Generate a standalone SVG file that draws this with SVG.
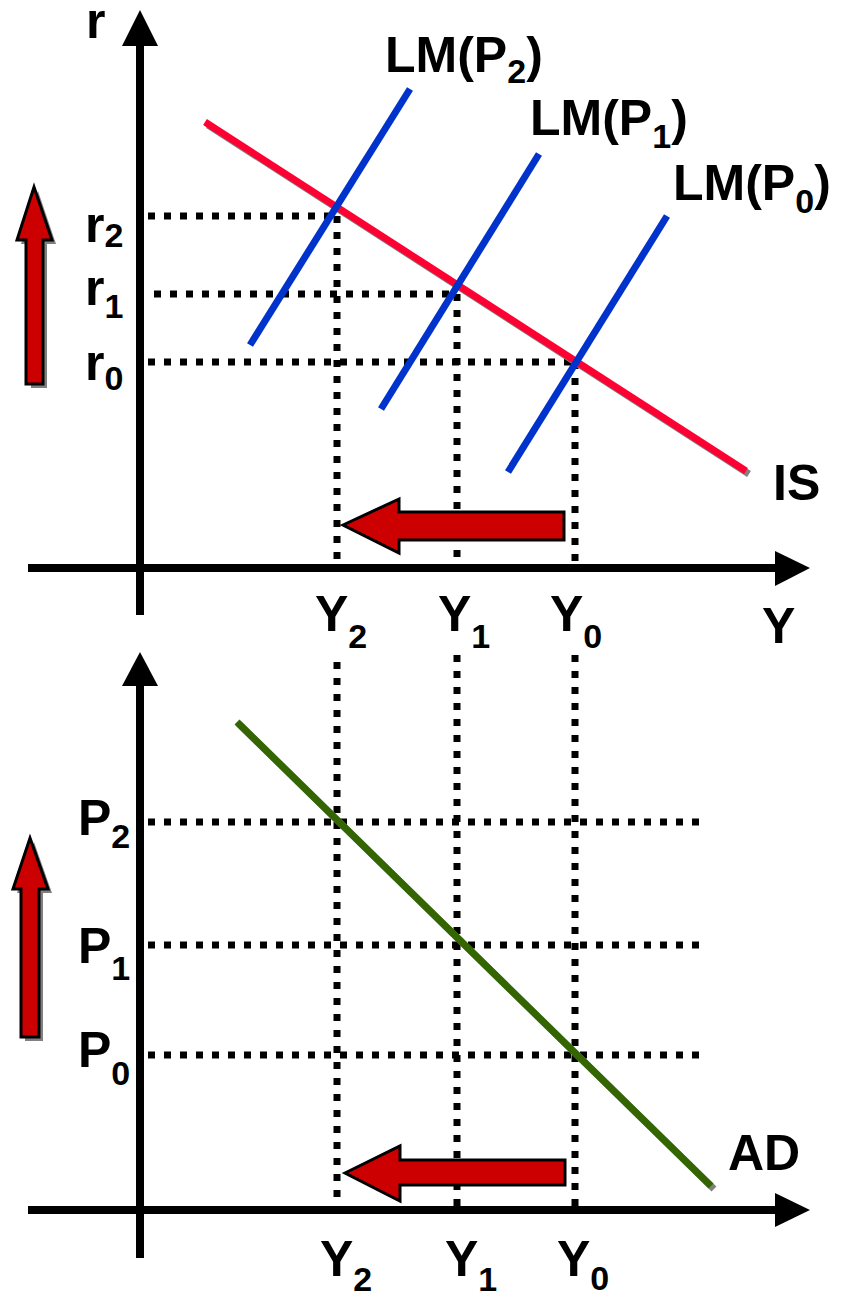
<svg xmlns="http://www.w3.org/2000/svg" width="842" height="1295" viewBox="0 0 842 1295">
<style>
.ax{stroke:#000;stroke-width:8;fill:none}
.ah{fill:#000}
.dot{stroke:#000;stroke-width:7;stroke-dasharray:7 9;fill:none}
.lm{stroke:#0033CC;stroke-width:7;fill:none}
.sh{stroke:#808080;stroke-width:7;fill:none}
.arr{fill:#CC0000;stroke:#000;stroke-width:3;stroke-linejoin:miter}
.ash{fill:#808080}
text{font-family:"Liberation Sans",Arial,sans-serif;font-weight:bold;font-size:50px;fill:#000}
.sub{font-size:34px}
</style>
<rect width="842" height="1295" fill="#fff"/>
<g id="guides">
<line class="dot" x1="148" y1="216" x2="337" y2="216"/>
<line class="dot" x1="154" y1="294" x2="457" y2="294"/>
<line class="dot" x1="148" y1="362" x2="575" y2="362"/>
<line class="dot" x1="337" y1="216" x2="337" y2="572"/>
<line class="dot" x1="457" y1="294" x2="457" y2="572"/>
<line class="dot" x1="575" y1="362" x2="575" y2="572"/>
<line class="dot" x1="337" y1="662" x2="337" y2="1212"/>
<line class="dot" x1="457" y1="655" x2="457" y2="1212"/>
<line class="dot" x1="575" y1="655" x2="575" y2="1212"/>
<line class="dot" x1="148" y1="822" x2="699" y2="822"/>
<line class="dot" x1="148" y1="945" x2="699" y2="945"/>
<line class="dot" x1="148" y1="1055" x2="699" y2="1055"/>
</g>
<g id="axes">
<line class="ax" x1="140" y1="615" x2="140" y2="40"/>
<polygon class="ah" points="140,10 122,46 158,46"/>
<line class="ax" x1="28" y1="568" x2="780" y2="568"/>
<polygon class="ah" points="810,568 775,551 775,586"/>
<line class="ax" x1="140" y1="1258" x2="140" y2="680"/>
<polygon class="ah" points="140,652 122,686 158,686"/>
<line class="ax" x1="28" y1="1210" x2="780" y2="1210"/>
<polygon class="ah" points="810,1210 775,1193 775,1227"/>
</g>
<g id="IS">
<line class="sh" x1="208" y1="125" x2="749" y2="474"/>
<line stroke="#FF0033" stroke-width="7" x1="205" y1="122" x2="746" y2="471"/>
</g>
<g id="LM-P2"><line class="lm" x1="250" y1="345" x2="410" y2="89"/></g>
<g id="LM-P1"><line class="lm" x1="381" y1="409" x2="539" y2="154"/></g>
<g id="LM-P0"><line class="lm" x1="508" y1="472" x2="667" y2="216"/></g>
<g id="AD">
<line class="sh" x1="239" y1="724" x2="714" y2="1189"/>
<line stroke="#336600" stroke-width="7" x1="237" y1="722" x2="711" y2="1186"/>
</g>
<g id="arrow-r">
<polygon class="ash" points="38,191 56,244 47,244 47,388 31,388 31,244 21,244"/>
<polygon class="arr" points="34,187 52,240 43,240 43,384 26,384 26,240 17,240"/>
</g>
<g id="arrow-P">
<polygon class="ash" points="34,842 52,893 43,893 43,1041 25,1041 25,893 17,893"/>
<polygon class="arr" points="30,838 48,889 39,889 39,1037 21,1037 21,889 13,889"/>
</g>
<g id="arrow-Y-top">
<polygon class="arr" points="343,525 399,499 399,512 564,512 564,540 399,540 399,553"/>
</g>
<g id="arrow-Y-bottom">
<polygon class="arr" points="345,1173 400,1146 400,1160 565,1160 565,1185 400,1185 400,1201"/>
</g>
<g id="labels">
<text x="86" y="38">r</text>
<text x="85" y="242">r<tspan class="sub" dy="5">2</tspan></text>
<text x="85" y="305">r<tspan class="sub" dy="13">1</tspan></text>
<text x="85" y="380">r<tspan class="sub" dy="10">0</tspan></text>
<text x="385" y="72">LM(P<tspan class="sub" dy="11">2</tspan><tspan dy="-11">)</tspan></text>
<text x="530" y="135">LM(P<tspan class="sub" dy="13">1</tspan><tspan dy="-13">)</tspan></text>
<text x="673" y="200">LM(P<tspan class="sub" dy="13">0</tspan><tspan dy="-13">)</tspan></text>
<text x="773" y="500">IS</text>
<text x="762" y="643">Y</text>
<text x="315" y="631">Y<tspan class="sub" dy="17">2</tspan></text>
<text x="438" y="631">Y<tspan class="sub" dy="17">1</tspan></text>
<text x="550" y="631">Y<tspan class="sub" dy="17">0</tspan></text>
<text x="78" y="835">P<tspan class="sub" dy="13">2</tspan></text>
<text x="78" y="963">P<tspan class="sub" dy="17">1</tspan></text>
<text x="78" y="1067">P<tspan class="sub" dy="18">0</tspan></text>
<text x="728" y="1170">AD</text>
<text x="320" y="1276">Y<tspan class="sub" dy="15">2</tspan></text>
<text x="445" y="1276">Y<tspan class="sub" dy="15">1</tspan></text>
<text x="557" y="1276">Y<tspan class="sub" dy="14">0</tspan></text>
</g>
</svg>
